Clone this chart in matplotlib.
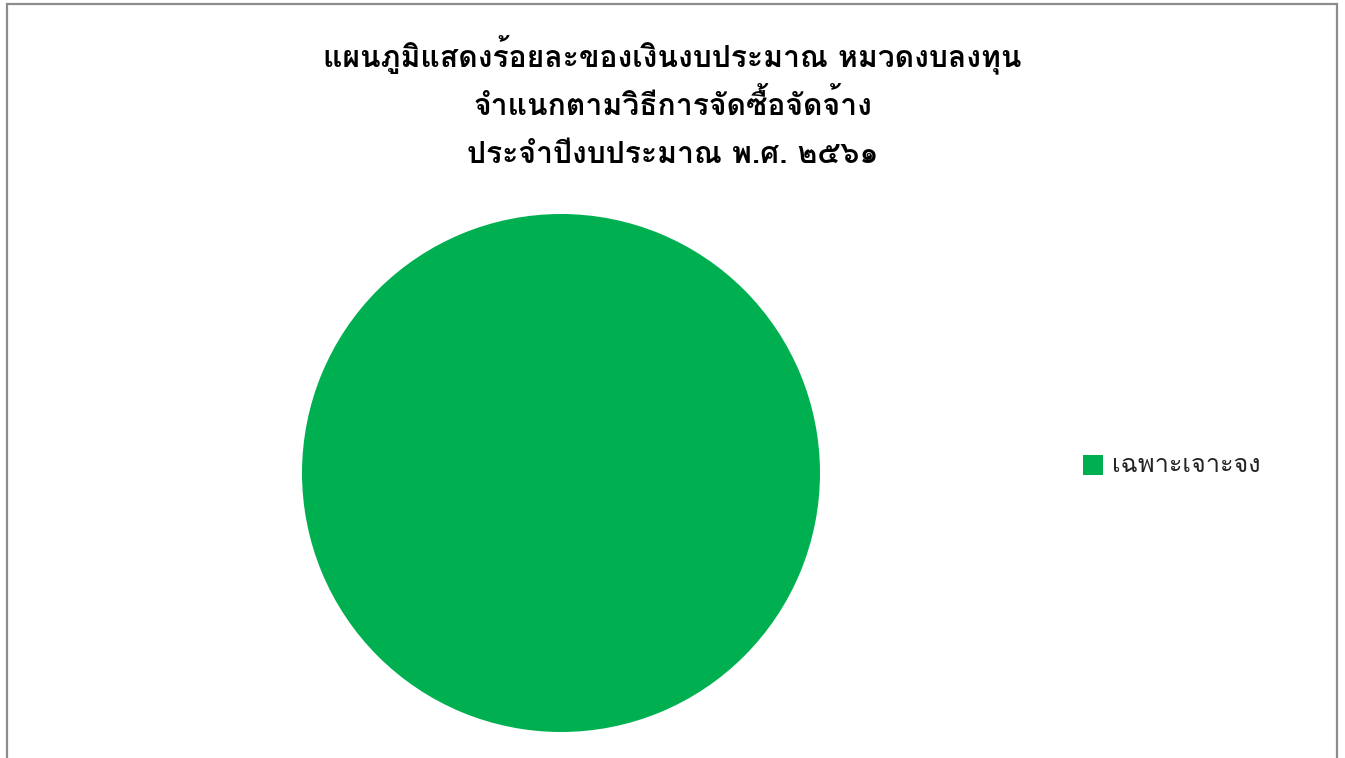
import matplotlib
matplotlib.use('Agg')
import matplotlib.pyplot as plt
from matplotlib import font_manager
from matplotlib.ft2font import FT2Font
from matplotlib.patches import Rectangle

# data
labels = ['เฉพาะเจาะจง']
values = [100.0]
colors = ['#00B050']
title_lines = ['แผนภูมิแสดงร้อยละของเงินงบประมาณ หมวดงบลงทุน',
               'จำแนกตามวิธีการจัดซื้อจัดจ้าง',
               'ประจำปีงบประมาณ พ.ศ. ๒๕๖๑']


def thai_family():
    # find an installed family that can draw Thai
    names = []
    for f in font_manager.fontManager.ttflist:
        try:
            ft = FT2Font(f.fname)
            if ft.get_char_index(ord('ก')) and ft.get_char_index(ord('๒')):
                names.append(f.name)
        except Exception:
            pass
    return names[0] if names else 'DejaVu Sans'


fam = [thai_family(), 'DejaVu Sans']

W, H = 1345, 758
fig = plt.figure(figsize=(W / 100, H / 100), dpi=100)

# outer chart border (bottom cut off in the reference)
fig.patches.append(Rectangle((7 / W, -0.05), 1330 / W, 1.05 - 4 / H,
                             transform=fig.transFigure, fill=False,
                             edgecolor='#8c8c8c', linewidth=1.6))

for i, line in enumerate(title_lines):
    fig.text(0.5, 1 - (55 + 50 * i) / H, line, ha='center', va='center',
             fontsize=21.7, fontweight='bold', family=fam, color='black')

r = 259
cx, cy = 561, 473
ax = fig.add_axes([(cx - r) / W, (H - cy - r) / H, 2 * r / W, 2 * r / H])
wedges, _ = ax.pie(values, colors=colors, startangle=90, counterclock=False,
                   radius=1.0)
ax.set_xlim(-1, 1)
ax.set_ylim(-1, 1)
ax.set_aspect('equal')
ax.axis('off')

fig.patches.append(Rectangle((1083 / W, 1 - 475 / H), 20 / W, 20 / H,
                             transform=fig.transFigure, facecolor=colors[0],
                             edgecolor='none'))
fig.text(1112 / W, 1 - 466 / H, labels[0], ha='left', va='center',
         fontsize=18.2, family=fam, color='#222222')

fig.savefig('out.png', dpi=100)
